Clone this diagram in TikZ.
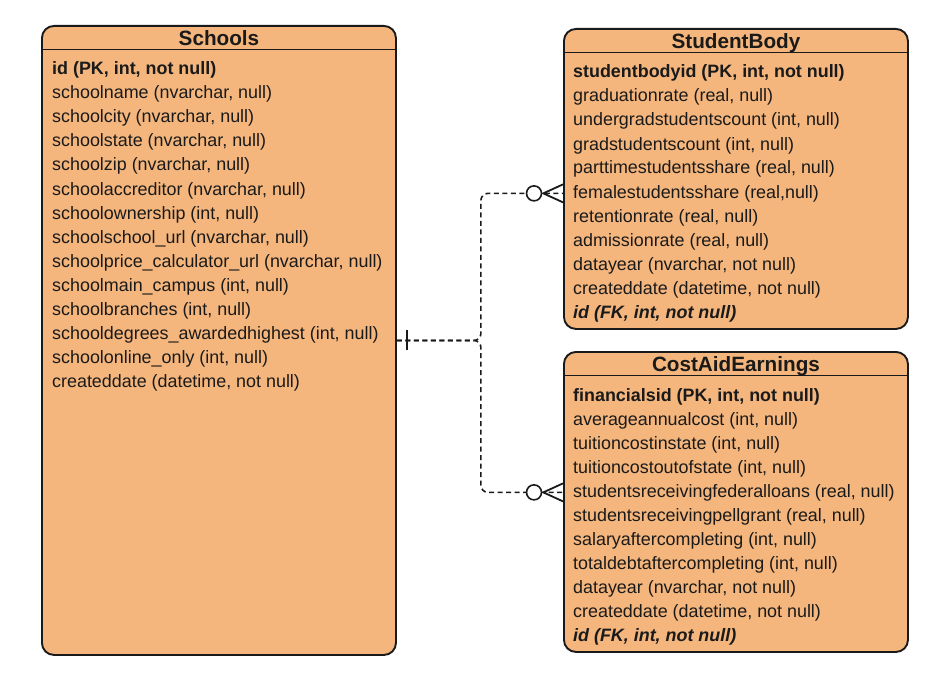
\documentclass[tikz,border=0pt]{standalone}
\usepackage{fontspec}
\setmainfont{Liberation Sans}
\usetikzlibrary{positioning,calc}
\definecolor{tablefill}{HTML}{F4B67C}
\definecolor{inkline}{HTML}{1A1A1A}
\newcommand{\rowfont}{\fontsize{17.9}{21}\selectfont}
\newcommand{\titlefont}{\fontsize{20.7}{24}\selectfont\bfseries}

\begin{document}
\begin{tikzpicture}
[x=1pt,y=-1pt,
tablebox/.style={draw=inkline,fill=tablefill,line width=1.9pt,rounded corners=12pt,inner sep=0pt,anchor=north west},
tabletitle/.style={font=\titlefont,anchor=base,inner sep=0pt,text=inkline},
tablerow/.style={font=\rowfont,anchor=base west,inner sep=0pt,text=inkline},
headline/.style={draw=inkline,line width=1.6pt},
rel/.style={draw=inkline,line width=1.6pt,dash pattern=on 5pt off 3.5pt,rounded corners=7pt},
foot/.style={draw=inkline,line width=1.8pt},
optional/.style={circle,draw=inkline,fill=white,line width=1.6pt,minimum size=15pt,inner sep=0pt}]
\useasboundingbox (0,0) rectangle (949,679);
%% tables
\node[tablebox,minimum width=354pt,minimum height=629pt] (schools) at (41,25) {};
\node[tablebox,minimum width=344pt,minimum height=300pt] (sb) at (563,28) {};
\node[tablebox,minimum width=344pt,minimum height=300pt] (cae) at (563,351) {};
%%
\foreach \tbl/\ttl in {schools/Schools,sb/StudentBody,cae/CostAidEarnings}{
  \node[tabletitle] (\tbl-t) at ($(\tbl.north)+(0,20.5)$) {\ttl};
  \draw[headline] ($(\tbl.north west)+(0,24.5)$) -- ($(\tbl.north east)+(0,24.5)$);
}
%% rows
\foreach \txt [count=\i from 0] in {{\textbf{id (PK, int, not null)}},
  {schoolname (nvarchar, null)},{schoolcity (nvarchar, null)},
  {schoolstate (nvarchar, null)},{schoolzip (nvarchar, null)},
  {schoolaccreditor (nvarchar, null)},{schoolownership (int, null)},
  {schoolschool\_url (nvarchar, null)},{schoolprice\_calculator\_url (nvarchar, null)},
  {schoolmain\_campus (int, null)},{schoolbranches (int, null)},
  {schooldegrees\_awardedhighest (int, null)},{schoolonline\_only (int, null)},
  {createddate (datetime, not null)}}
  \node[tablerow] (sch-\i) at ($(schools.north west)+(11,50+24*\i)$) {\txt};
\foreach \txt [count=\i from 0] in {{\textbf{studentbodyid (PK, int, not null)}},
  {graduationrate (real, null)},{undergradstudentscount (int, null)},
  {gradstudentscount (int, null)},{parttimestudentsshare (real, null)},
  {femalestudentsshare (real,null)},{retentionrate (real, null)},
  {admissionrate (real, null)},{datayear (nvarchar, not null)},
  {createddate (datetime, not null)},{\textbf{\textit{id (FK, int, not null)}}}}
  \node[tablerow] (sb-\i) at ($(sb.north west)+(10,50+24*\i)$) {\txt};
\foreach \txt [count=\i from 0] in {{\textbf{financialsid (PK, int, not null)}},
  {averageannualcost (int, null)},{tuitioncostinstate (int, null)},
  {tuitioncostoutofstate (int, null)},{studentsreceivingfederalloans (real, null)},
  {studentsreceivingpellgrant (real, null)},{salaryaftercompleting (int, null)},
  {totaldebtaftercompleting (int, null)},{datayear (nvarchar, not null)},
  {createddate (datetime, not null)},{\textbf{\textit{id (FK, int, not null)}}}}
  \node[tablerow] (cae-\i) at ($(cae.north west)+(10,50+24*\i)$) {\txt};
%% relations
\coordinate (jn) at ($(schools.east)+(84,0)$);
\draw[rel] (schools.east) -| (jn |- sb-5) -- (sb.west |- sb-5);
\draw[rel] (schools.east) -| (jn |- cae-4) -- (cae.west |- cae-4);
\draw[foot] ($(schools.east)+(10,-10)$) -- ++(0,20);
\node[optional] (sbo) at ($(sb.west |- sb-5)+(-29,0)$) {};
\node[optional] (caeo) at ($(cae.west |- cae-4)+(-29,0)$) {};
\draw[foot] ($(sb.west |- sb-5)+(0,-9)$) -- ($(sbo.east)+(1,0)$) -- ($(sb.west |- sb-5)+(0,9)$);
\draw[foot] ($(cae.west |- cae-4)+(0,-9)$) -- ($(caeo.east)+(1,0)$) -- ($(cae.west |- cae-4)+(0,9)$);
\end{tikzpicture}
\end{document}
